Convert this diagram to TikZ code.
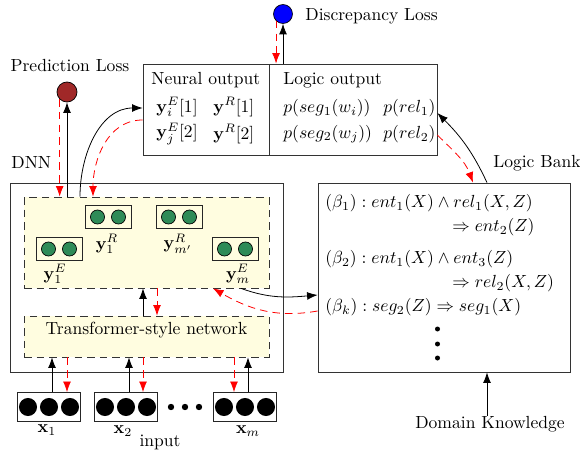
\documentclass[tikz,border=0pt]{standalone}
\usepackage{amsmath}
\usetikzlibrary{arrows.meta}
\usetikzlibrary{fit}
\usetikzlibrary{calc}
\definecolor{unitgreen}{RGB}{46,139,87}
\definecolor{lossred}{RGB}{160,40,40}
\tikzset{panel/.style={draw=black!80!white, line width=0.45pt, inner sep=0pt}}
\tikzset{band/.style={fill=yellow!12, draw=black!80!white, line width=0.45pt, dash pattern=on 4.3pt off 2.9pt, inner sep=0pt}}
\tikzset{unit/.style={draw=black!85!white, line width=0.45pt, inner sep=0pt}}
\tikzset{neuron/.style={circle, draw, line width=0.4pt, fill=unitgreen, minimum size=8pt, inner sep=0pt}}
\tikzset{inneuron/.style={circle, fill=black, minimum size=10.3pt, inner sep=0pt}}
\tikzset{txt/.style={inner sep=0pt}}
\tikzset{fwd/.style={-{Latex[length=6pt,width=4.5pt]}, line width=0.45pt}}
\tikzset{bwd/.style={-{Latex[length=6pt,width=4.5pt]}, red, line width=0.45pt, dash pattern=on 4.3pt off 2.9pt}}

\begin{document}
\begin{tikzpicture}[x=0.57pt,y=0.57pt]
\useasboundingbox (0,0) rectangle (580,-452);

% output table
\node[panel, fit={(143,-64) (269,-155)}] (neural) {};
\node[panel, fit={(269,-64) (437,-155)}] (logic) {};
\node[txt, anchor=west] (nhead) at (151,-80) {Neural output};
\node[txt, anchor=west] (ne1) at (156,-107) {$\mathbf{y}_i^E[1]$};
\node[txt, anchor=west] (nr1) at (213,-107) {$\mathbf{y}^R[1]$};
\node[txt, anchor=west] (ne2) at (156,-134) {$\mathbf{y}_j^E[2]$};
\node[txt, anchor=west] (nr2) at (213,-134) {$\mathbf{y}^R[2]$};
\node[txt, anchor=west] (lhead) at (283,-80) {Logic output};
\node[txt, anchor=west] (ls1) at (283,-108) {$p(seg_1(w_i))$};
\node[txt, anchor=west] (lr1) at (383,-108) {$p(rel_1)$};
\node[txt, anchor=west] (ls2) at (283,-134) {$p(seg_2(w_j))$};
\node[txt, anchor=west] (lr2) at (383,-134) {$p(rel_2)$};

% losses
\node[circle, draw, fill=lossred, minimum size=11.4pt, inner sep=0pt] (pred) at (67,-92) {};
\node[txt] (predlabel) at (70,-66) {Prediction Loss};
\node[circle, draw, fill=blue, minimum size=10.8pt, inner sep=0pt] (disc) at (283,-14) {};
\node[txt, anchor=west] (disclabel) at (305,-16) {Discrepancy Loss};

% DNN
\node[panel, fit={(10,-183) (283,-372)}] (dnn) {};
\node[txt, anchor=west] (dnnlabel) at (11,-163) {DNN};
\node[band, fit={(24,-197) (269,-288)}] (head) {};
\node[band, fit={(24,-316) (269,-357)}] (trans) {Transformer-style network};
\foreach \nm/\cx/\cy in {ye1/59/-249, yr1/108/-217, yrm/179/-217, yem/235/-249}{
  \node[unit, fit={(\cx-23,\cy-11.5) (\cx+23,\cy+11.5)}] (\nm) {};
  \node[neuron] (\nm a) at (\cx-10.5,\cy) {};
  \node[neuron] (\nm b) at (\cx+10.5,\cy) {};
}
\node[txt] (ye1label) at (55,-274) {$\mathbf{y}_1^E$};
\node[txt] (yr1label) at (107,-244) {$\mathbf{y}_1^R$};
\node[txt] (yrmlabel) at (178,-244) {$\mathbf{y}_{m'}^R$};
\node[txt] (yemlabel) at (238,-274) {$\mathbf{y}_m^E$};

% input
\foreach \nm/\cx in {x1/49, x2/126, xm/245}{
  \node[unit, fit={(\cx-31.5,-392.5) (\cx+31.5,-421)}] (\nm) {};
  \foreach \k/\s in {-1/a,0/b,1/c}
    \node[inneuron] (\nm\s) at (\cx+21*\k,-407) {};
}
\foreach \dx in {171,185,199}
  \fill (\dx,-407) circle (3.2);
\node[txt] (x1label) at (47,-430) {$\mathbf{x}_1$};
\node[txt] (x2label) at (123,-431) {$\mathbf{x}_2$};
\node[txt] (xmlabel) at (248,-431) {$\mathbf{x}_m$};
\node[txt] (inputlabel) at (160,-442) {input};

% logic bank
\node[panel, fit={(318,-183) (570,-372)}] (bank) {};
\node[txt, anchor=west] (banklabel) at (493,-163) {Logic Bank};
\node[txt, anchor=west] (rule1) at (325,-203) {$(\beta_1): ent_1(X) \wedge rel_1(X,Z)$};
\node[txt, anchor=west] (rule1b) at (452,-227) {$\Rightarrow ent_2(Z)$};
\node[txt, anchor=west] (rule2) at (325,-259) {$(\beta_2): ent_1(X) \wedge ent_3(Z)$};
\node[txt, anchor=west] (rule2b) at (452,-283) {$\Rightarrow rel_2(X,Z)$};
\node[txt, anchor=west] (rulek) at (325,-307) {$(\beta_k): seg_2(Z) \Rightarrow seg_1(X)$};
\foreach \dy in {-329,-344,-358}
  \fill (437.5,\dy) circle (2.5);
\node[txt] (domain) at (490,-424) {Domain Knowledge};

% forward
\draw[fwd] (x1.north -| 52,0) -- (trans.south -| 52,0);
\draw[fwd] (x2.north -| 129,0) -- (trans.south -| 129,0);
\draw[fwd] (xm.north -| 248,0) -- (trans.south -| 248,0);
\draw[fwd] (trans.north -| 143,0) -- (head.south -| 143,0);
\draw[fwd] (head.north -| pred.south) -- (pred.south);
\draw[fwd] (head.north -| 80,0) to[out=90,in=180] (neural.west |- 0,-108);
\draw[fwd] (head.south -| 241,0) to[out=-20,in=185] (bank.west |- 0,-295);
\draw[fwd] (bank.north -| 487,0) to[out=115,in=-45] (logic.east |- 0,-113);
\draw[fwd] (logic.north -| disc.south) -- (disc.south);
\draw[fwd] (domain.north -| 487,-419) -- (bank.south -| 487,0);

% backward
\draw[bwd] (pred.south west) -- (head.north -| pred.south west);
\draw[bwd] (neural.west |- 0,-120) to[out=180,in=90] (head.north -| 93,0);
\draw[bwd] (disc.south west) -- (logic.north -| disc.south west);
\draw[bwd] (logic.east |- 0,-135) to[out=-45,in=110] (bank.north -| 473,0);
\draw[bwd] (bank.west |- 0,-311) to[out=190,in=-30] (head.south -| 213,0);
\draw[bwd] (head.south -| 157,0) -- (trans.north -| 157,0);
\draw[bwd] (trans.south -| 67,0) -- (x1.north -| 67,0);
\draw[bwd] (trans.south -| 143,0) -- (x2.north -| 143,0);
\draw[bwd] (trans.south -| 234,0) -- (xm.north -| 234,0);
\end{tikzpicture}
\end{document}
